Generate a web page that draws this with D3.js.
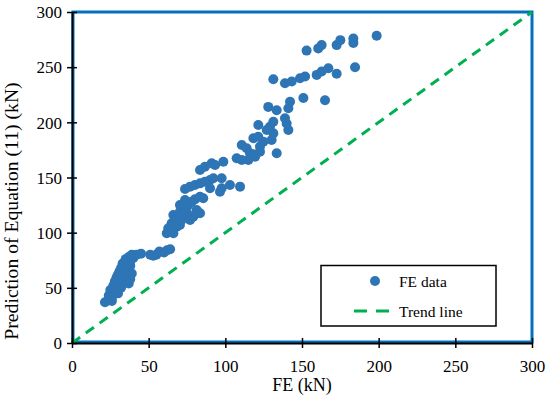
<!DOCTYPE html>
<html><head><meta charset="utf-8">
<script src="https://cdn.jsdelivr.net/npm/d3@7"></script>
<style>body{margin:0;background:#fff}svg{display:block}
svg text{font-family:"Liberation Serif","Tinos","Times New Roman",Times,"DejaVu Serif",serif !important}</style>
</head><body>
<svg id="c" width="550" height="399"></svg>
<script>
// FE results (kN) and predicted values of Equation (11) (kN)
const feValues = [
 21.5,24,26,24,27,25,28,27,30,28,31,29,32,30,33,31,34,32,35,34,36,33,36,35,38,37,40,39,42,45,30,32,34,36,37,38,29,33,37,38,39,26,31,35,
 51,53,55,57,60,62,64,
 61.8,62.8,63.9,65,66.1,66.1,67.2,68.3,69.3,70.4,70.4,71.5,73.7,75.9,77,78.1,79.1,80.2,81.3,73.7,83.5,85.6,70.4,83.5,64,68,72,75,
 73.7,77,80.2,83.5,86.7,90,92.2,97.6,97.6,103,109.6,96.5,90,
 83.5,86.7,91.1,93.3,98.7,
 107.4,110.7,113.9,116.1,119.4,118.3,121.5,122.6,124.8,127,129.1,121.5,130.2,133.5,131.3,140,141.1,115,122.6,110.7,118.3,
 131.3,138.9,128,133.5,141.1,142.2,150.9,165,131.3,138.9,143.3,148.7,152,159.6,162.8,167.2,172.6,184.6,153,160.6,162.8,172.6,175,183.5,183.5,198.7
];
const predValues = [
 37,39,38,43,45,48,48,52,52,56,55,59,58,62,61,65,64,68,66,70,69,72,73,76,74,78,77,80,80,81,45,50,55,60,65,70,50,66,54,58,63,41,60,71,
 80,79,80,83,82,84,85,
 99.4,104,100.9,108.5,99.4,116,111.5,105.4,114.5,107,119,111.5,122,125,111.5,128,114.5,130.2,120.5,129.6,117.6,131.2,125,132.6,103,110,116,118,
 139.6,141.7,143.2,144.7,146.2,147.7,149.3,149.3,140.2,143.2,141.7,137.1,140.2,
 156.8,159.8,162.9,161.3,164.3,
 167.4,179.5,176.5,171.9,168.9,185.5,187,178,182.5,193,196,197.6,184,171.9,190,199,193,165.9,173.4,165.9,171,
 200.6,203.7,214,211,212.7,218.7,222,220,239,235.5,237,240,241.5,243,246,249,244,250,265,267,270,270,274.5,272,276,278.5
];
const trendLine = [0, 300];
const xTicks = [0,50,100,150,200,250,300];
const yTicks = [0,50,100,150,200,250,300];
const xTitle = "FE (kN)";
const yTitle = "Prediction of Equation (11) (kN)";
const legendLabels = ["FE data", "Trend line"];

const svg = d3.select("#c");
const x = d3.scaleLinear().domain([0,300]).range([72,532]);
const y = d3.scaleLinear().domain([0,300]).range([343,12]);
const font = "Liberation Serif";

// plot frame
svg.append("rect").attr("x",x(0)+1).attr("y",y(300)).attr("width",x(300)-x(0)-1).attr("height",y(0)-y(300)-1)
  .attr("fill","none").attr("stroke","#0070C0").attr("stroke-width",3);

// points
svg.append("g").selectAll("circle").data(feValues.map((d,i)=>[d,predValues[i]])).join("circle")
  .attr("cx",d=>x(d[0])).attr("cy",d=>y(d[1])).attr("r",5).attr("fill","#2E75B6");

// trend line
svg.append("line").attr("x1",x(trendLine[0])).attr("y1",y(trendLine[0])).attr("x2",x(trendLine[1])).attr("y2",y(trendLine[1]))
  .attr("stroke","#00B050").attr("stroke-width",3).attr("stroke-dasharray","10,7");

// axes
const xAxis = svg.append("g").attr("transform",`translate(0,${y(0)})`)
  .call(d3.axisBottom(x).tickValues(xTicks).tickSize(5).tickSizeOuter(0).tickFormat(d3.format("d")));
const yAxis = svg.append("g").attr("transform",`translate(${x(0)},0)`)
  .call(d3.axisLeft(y).tickValues(yTicks).tickSize(5).tickSizeOuter(0).tickFormat(d3.format("d")));
[xAxis,yAxis].forEach(a=>{
  a.attr("font-family",font);
  a.select(".domain").attr("stroke","#000").attr("stroke-width",2);
  a.selectAll(".tick line").attr("stroke","#000").attr("stroke-width",1.5);
  a.selectAll("text").attr("font-size",17).attr("fill","#000");
});
xAxis.selectAll(".tick line").attr("y1",-5);
xAxis.selectAll("text").attr("dy",null).attr("y",29);
yAxis.selectAll(".tick line").attr("x1",5);
yAxis.selectAll("text").attr("x",-10).attr("dy","0.34em");

// titles
svg.append("text").attr("x",302).attr("y",391).attr("text-anchor","middle")
  .attr("font-size",18).text(xTitle);
svg.append("text").attr("transform","translate(18,211) rotate(-90)").attr("text-anchor","middle")
  .attr("font-size",19.7).text(yTitle);

// legend
const lg = svg.append("g");
lg.append("rect").attr("x",321).attr("y",265.5).attr("width",175).attr("height",60.5)
  .attr("fill","#fff").attr("stroke","#000").attr("stroke-width",1.5);
lg.append("circle").attr("cx",375).attr("cy",281).attr("r",5).attr("fill","#2E75B6");
lg.append("line").attr("x1",354).attr("x2",389).attr("y1",311).attr("y2",311)
  .attr("stroke","#00B050").attr("stroke-width",3).attr("stroke-dasharray","13,9");
lg.selectAll("text.l").data(legendLabels).join("text").attr("class","l")
  .attr("x",399).attr("y",(d,i)=>287+i*30).attr("font-size",15.5).text(d=>d);
</script>
</body></html>
